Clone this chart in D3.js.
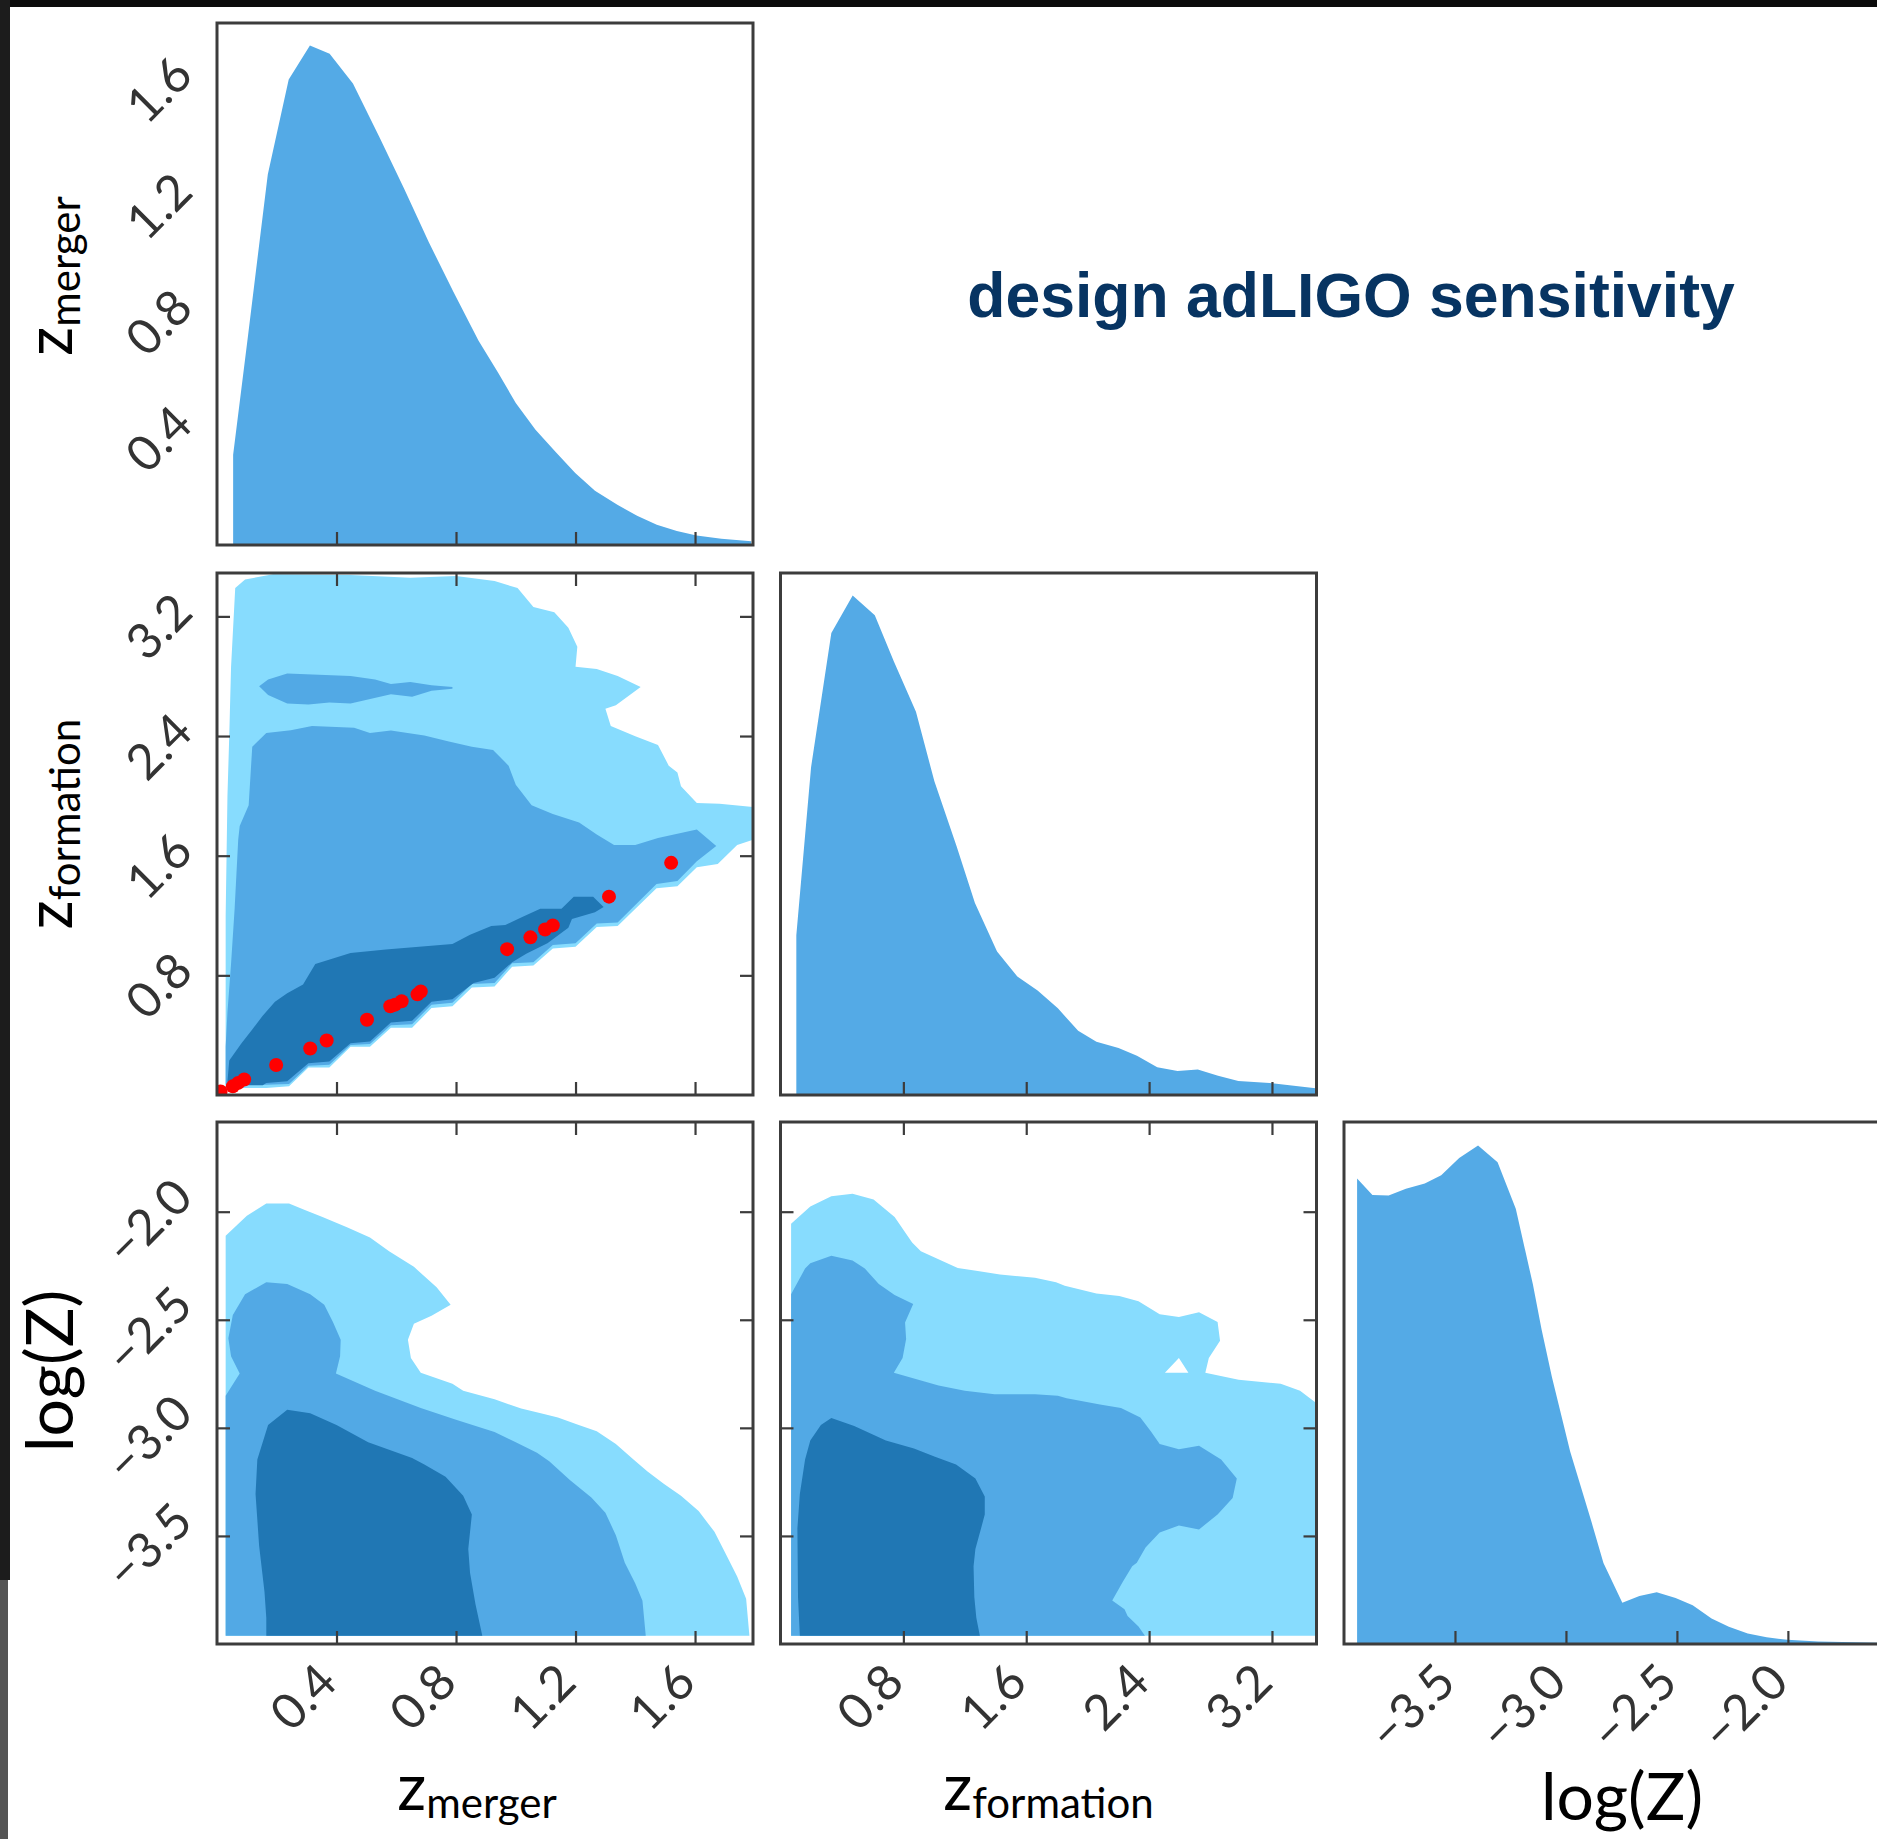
<!DOCTYPE html>
<html>
<head>
<meta charset="utf-8">
<script src="https://cdn.jsdelivr.net/npm/d3@7"></script>
<style>
  html, body { margin: 0; padding: 0; background: #fff; }
  svg { display: block; }
  .tick-label { font-family: Lato, "Open Sans", sans-serif; font-size: 49px; fill: #333; }
  .axis-label { font-family: Lato, "Open Sans", sans-serif; fill: #000; }
  .title { font-family: "Liberation Sans", Arial, sans-serif; font-weight: bold; fill: #073462; }
</style>
</head>
<body>
<svg id="chart" width="1877" height="1839"></svg>
<script>
// ---- parameter ranges and ticks ----
const zMergerDomain = [0, 1.794];
const zFormationDomain = [0, 3.49];
const logZDomain = [-4.0, -1.585];

const zMergerTicks = [0.4, 0.8, 1.2, 1.6];
const zFormationTicks = [0.8, 1.6, 2.4, 3.2];
const logZTicks = [-3.5, -3.0, -2.5, -2.0];

// ---- 1D marginals: [value, relative density] ----
const zMergerPdf = [[0.054,0.173],[0.104,0.402],[0.170,0.710],[0.240,0.892],[0.311,0.957],[0.377,0.941],[0.455,0.884],[0.543,0.782],[0.626,0.683],[0.709,0.580],[0.792,0.484],[0.875,0.392],[0.941,0.330],[1.000,0.272],[1.066,0.221],[1.132,0.179],[1.199,0.138],[1.265,0.104],[1.340,0.077],[1.406,0.056],[1.472,0.039],[1.539,0.027],[1.605,0.018],[1.688,0.012],[1.788,0.007]];

const zFormationPdf = [[0.103,0.306],[0.199,0.628],[0.331,0.885],[0.470,0.957],[0.614,0.919],[0.739,0.830],[0.882,0.734],[1.002,0.601],[1.146,0.477],[1.266,0.368],[1.410,0.275],[1.542,0.227],[1.674,0.200],[1.806,0.166],[1.938,0.123],[2.057,0.102],[2.201,0.090],[2.321,0.075],[2.453,0.053],[2.585,0.046],[2.717,0.049],[2.849,0.037],[2.981,0.027],[3.185,0.023],[3.328,0.018],[3.484,0.013]];

const logZPdf = [[-3.941,0.892],[-3.872,0.860],[-3.799,0.859],[-3.721,0.872],[-3.636,0.882],[-3.562,0.898],[-3.481,0.931],[-3.396,0.955],[-3.308,0.923],[-3.226,0.834],[-3.149,0.689],[-3.110,0.603],[-3.063,0.511],[-2.981,0.369],[-2.885,0.234],[-2.831,0.155],[-2.746,0.079],[-2.669,0.092],[-2.591,0.099],[-2.506,0.088],[-2.429,0.074],[-2.344,0.049],[-2.266,0.033],[-2.181,0.020],[-2.096,0.013],[-2.002,0.008],[-1.864,0.005],[-1.647,0.003],[-1.585,0.002]];

// ---- 2D credible regions (outer = 3 sigma, middle = 2 sigma, inner = 1 sigma) ----
// z_formation vs z_merger
const zfZmOuter = [[0.029,0.046],[0.029,1.2],[0.035,2.0],[0.041,2.4],[0.047,2.86],[0.061,3.39],[0.094,3.447],[0.188,3.482],[0.447,3.476],[0.647,3.459],[0.800,3.47],[0.929,3.436],[1.006,3.389],[1.059,3.263],[1.129,3.228],[1.176,3.124],[1.206,2.997],[1.200,2.864],[1.271,2.848],[1.341,2.801],[1.418,2.728],[1.335,2.606],[1.300,2.582],[1.318,2.467],[1.400,2.398],[1.476,2.340],[1.512,2.202],[1.541,2.156],[1.553,2.064],[1.606,1.953],[1.682,1.948],[1.794,1.925],[1.794,1.706],[1.741,1.672],[1.676,1.545],[1.606,1.522],[1.541,1.395],[1.471,1.383],[1.341,1.13],[1.271,1.123],[1.200,0.991],[1.124,0.980],[1.059,0.865],[0.988,0.858],[0.929,0.726],[0.853,0.719],[0.788,0.593],[0.718,0.581],[0.653,0.45],[0.582,0.45],[0.512,0.323],[0.447,0.323],[0.376,0.184],[0.306,0.184],[0.241,0.058],[0.165,0.046]];
const zfZmMiddle = [[0.029,0.069],[0.029,0.323],[0.035,0.553],[0.047,0.876],[0.059,1.245],[0.071,1.706],[0.076,1.798],[0.106,1.937],[0.118,2.329],[0.165,2.421],[0.247,2.439],[0.318,2.467],[0.459,2.456],[0.512,2.421],[0.582,2.437],[0.694,2.403],[0.776,2.363],[0.853,2.329],[0.924,2.306],[0.976,2.202],[1.0,2.075],[1.053,1.937],[1.124,1.879],[1.212,1.822],[1.271,1.741],[1.329,1.672],[1.4,1.672],[1.476,1.718],[1.606,1.775],[1.671,1.665],[1.606,1.563],[1.541,1.430],[1.471,1.411],[1.341,1.153],[1.271,1.146],[1.2,1.015],[1.124,1.003],[1.059,0.888],[0.988,0.881],[0.929,0.749],[0.853,0.742],[0.788,0.616],[0.718,0.604],[0.653,0.473],[0.582,0.466],[0.512,0.341],[0.447,0.334],[0.376,0.203],[0.306,0.196],[0.241,0.074],[0.165,0.069]];
const zfZmIsland = [[0.141,2.732],[0.171,2.778],[0.235,2.818],[0.447,2.801],[0.529,2.778],[0.582,2.748],[0.647,2.762],[0.718,2.739],[0.788,2.728],[0.788,2.716],[0.718,2.702],[0.653,2.663],[0.582,2.679],[0.447,2.617],[0.376,2.624],[0.306,2.610],[0.235,2.617],[0.171,2.675]];
const zfZmInner = [[0.035,0.092],[0.041,0.231],[0.082,0.346],[0.118,0.438],[0.153,0.530],[0.194,0.623],[0.235,0.680],[0.288,0.738],[0.329,0.876],[0.447,0.950],[0.565,0.973],[0.788,1.010],[0.847,1.072],[0.918,1.130],[0.965,1.137],[1.018,1.187],[1.082,1.245],[1.153,1.245],[1.194,1.326],[1.259,1.326],[1.294,1.257],[1.265,1.222],[1.188,1.176],[1.176,1.118],[1.106,1.015],[1.035,0.945],[0.988,0.888],[0.929,0.784],[0.859,0.749],[0.788,0.641],[0.718,0.623],[0.653,0.496],[0.582,0.484],[0.512,0.357],[0.447,0.346],[0.376,0.224],[0.306,0.212],[0.235,0.092],[0.165,0.081],[0.153,0.065],[0.047,0.065]];

// log(Z) vs z_merger
const lzZmOuter = [[0.029,-3.962],[1.782,-3.962],[1.771,-3.791],[1.741,-3.688],[1.7,-3.576],[1.665,-3.481],[1.612,-3.385],[1.553,-3.314],[1.494,-3.258],[1.441,-3.202],[1.394,-3.146],[1.335,-3.075],[1.271,-3.016],[1.206,-2.984],[1.141,-2.952],[1.094,-2.936],[1.018,-2.911],[0.929,-2.868],[0.824,-2.828],[0.788,-2.796],[0.682,-2.745],[0.649,-2.677],[0.639,-2.592],[0.659,-2.518],[0.718,-2.481],[0.782,-2.430],[0.735,-2.350],[0.659,-2.255],[0.576,-2.183],[0.512,-2.119],[0.435,-2.072],[0.353,-2.024],[0.294,-1.992],[0.241,-1.962],[0.165,-1.962],[0.1,-2.019],[0.029,-2.111]];
const lzZmMiddle = [[0.029,-3.962],[0.029,-2.852],[0.076,-2.748],[0.047,-2.669],[0.038,-2.586],[0.053,-2.478],[0.094,-2.382],[0.165,-2.326],[0.235,-2.334],[0.312,-2.382],[0.359,-2.430],[0.388,-2.510],[0.414,-2.592],[0.412,-2.669],[0.398,-2.748],[0.529,-2.828],[0.682,-2.908],[0.8,-2.963],[0.929,-3.019],[1.0,-3.067],[1.071,-3.115],[1.112,-3.154],[1.182,-3.242],[1.253,-3.322],[1.3,-3.393],[1.335,-3.497],[1.365,-3.624],[1.4,-3.720],[1.424,-3.800],[1.435,-3.962]];
const lzZmInner = [[0.165,-3.962],[0.165,-3.879],[0.159,-3.760],[0.141,-3.545],[0.129,-3.306],[0.135,-3.146],[0.171,-2.987],[0.235,-2.916],[0.312,-2.932],[0.4,-2.987],[0.506,-3.067],[0.653,-3.139],[0.694,-3.170],[0.765,-3.226],[0.824,-3.314],[0.853,-3.401],[0.847,-3.481],[0.841,-3.561],[0.847,-3.672],[0.865,-3.815],[0.888,-3.962]];

// log(Z) vs z_formation
const lzZfOuter = [[0.069,-3.962],[3.486,-3.962],[3.486,-2.884],[3.383,-2.828],[3.257,-2.796],[2.983,-2.777],[2.766,-2.745],[2.789,-2.677],[2.862,-2.597],[2.846,-2.510],[2.725,-2.465],[2.594,-2.487],[2.469,-2.475],[2.331,-2.414],[2.206,-2.390],[2.057,-2.379],[1.851,-2.342],[1.794,-2.326],[1.657,-2.306],[1.429,-2.290],[1.154,-2.260],[0.914,-2.183],[0.857,-2.143],[0.743,-2.024],[0.606,-1.944],[0.469,-1.917],[0.331,-1.928],[0.194,-1.976],[0.069,-2.056]];
const lzZfHole = [[2.503,-2.745],[2.594,-2.677],[2.656,-2.745]];
const lzZfMiddle = [[0.069,-3.962],[0.069,-2.382],[0.16,-2.263],[0.194,-2.239],[0.331,-2.204],[0.469,-2.226],[0.549,-2.263],[0.64,-2.334],[0.743,-2.385],[0.864,-2.427],[0.811,-2.513],[0.818,-2.589],[0.795,-2.677],[0.738,-2.745],[1.029,-2.804],[1.2,-2.828],[1.394,-2.844],[1.657,-2.844],[1.806,-2.852],[1.863,-2.863],[2.08,-2.892],[2.217,-2.908],[2.343,-2.952],[2.411,-3.016],[2.469,-3.075],[2.594,-3.099],[2.725,-3.083],[2.869,-3.146],[2.971,-3.234],[2.944,-3.325],[2.846,-3.401],[2.725,-3.470],[2.594,-3.452],[2.469,-3.484],[2.377,-3.553],[2.32,-3.624],[2.29,-3.640],[2.229,-3.712],[2.16,-3.799],[2.24,-3.839],[2.26,-3.871],[2.331,-3.919],[2.373,-3.962]];
const lzZfInner = [[0.126,-3.962],[0.114,-3.783],[0.11,-3.465],[0.126,-3.306],[0.16,-3.146],[0.194,-3.059],[0.263,-2.987],[0.331,-2.955],[0.48,-2.992],[0.686,-3.059],[0.869,-3.096],[1.006,-3.134],[1.143,-3.170],[1.269,-3.234],[1.330,-3.318],[1.330,-3.401],[1.303,-3.473],[1.269,-3.561],[1.257,-3.640],[1.262,-3.783],[1.275,-3.879],[1.298,-3.962]];

// detected events: [z_merger, z_formation]
const mergerPoints = [[0.012,0.023],[0.053,0.058],[0.071,0.081],[0.091,0.104],[0.198,0.201],[0.312,0.311],[0.367,0.364],[0.502,0.503],[0.580,0.593],[0.596,0.604],[0.618,0.627],[0.671,0.673],[0.682,0.692],[0.971,0.975],[1.049,1.054],[1.098,1.107],[1.124,1.134],[1.312,1.326],[1.520,1.552]];

// ---- layout ----
const colX = [217, 780.5, 1344];
const rowY = [23, 573, 1122];
const W = 536, H = 522;
const tickLen = 13;
const levelColors = ["#87dcfe", "#52a9e5", "#2077b4"];
const histColor = "#54aae6";
const frameColor = "#3c3c3c";

const svg = d3.select("#chart");

// dark edges of the page
svg.append("rect").attr("x", 0).attr("y", 0).attr("width", 1877).attr("height", 7).attr("fill", "#0b0b0b");
svg.append("rect").attr("x", 0).attr("y", 0).attr("width", 10).attr("height", 1580).attr("fill", "#1c1c1c");
svg.append("rect").attr("x", 0).attr("y", 1580).attr("width", 8).attr("height", 259).attr("fill", "#555");

const domains = [zMergerDomain, zFormationDomain, logZDomain];
const ticks = [zMergerTicks, zFormationTicks, logZTicks];
const xScales = domains.map(d => d3.scaleLinear().domain(d).range([0, W]));
const yScales = domains.map(d => d3.scaleLinear().domain(d).range([H, 0]));
const fmt = d3.format(".1f");

function panel(row, col) {
  const g = svg.append("g").attr("transform", `translate(${colX[col]},${rowY[row]})`);
  const id = `clip-${row}-${col}`;
  g.append("clipPath").attr("id", id).append("rect").attr("width", W).attr("height", H);
  const body = g.append("g").attr("clip-path", `url(#${id})`);
  return { g, body };
}

function frame(g) {
  g.append("rect").attr("width", W).attr("height", H)
    .attr("fill", "none").attr("stroke", frameColor).attr("stroke-width", 3);
}

function tickMarks(g, axis, translate) {
  const a = g.append("g").attr("transform", translate)
    .call(axis.tickSize(-tickLen).tickFormat(""));
  a.select(".domain").remove();
  a.selectAll("line").attr("stroke", frameColor).attr("stroke-width", 2.2);
}

// rotated tick labels, 45 degrees
const digitH = 35;
function xTickLabels(g, scale, values) {
  values.forEach(v => {
    const t = g.append("text").attr("class", "tick-label")
      .attr("text-anchor", "middle").attr("dominant-baseline", "central")
      .text(fmt(v));
    const half = 0.354 * (t.node().getComputedTextLength() + digitH);
    const cx = scale(v) - half + 2, cy = H + 15 + half;
    t.attr("transform", `translate(${cx},${cy}) rotate(-45)`);
  });
}
function yTickLabels(g, scale, values) {
  values.forEach(v => {
    const t = g.append("text").attr("class", "tick-label")
      .attr("text-anchor", "middle").attr("dominant-baseline", "central")
      .text(fmt(v));
    const half = 0.354 * (t.node().getComputedTextLength() + digitH);
    const cx = -23 - half, cy = scale(v) + 9;
    t.attr("transform", `translate(${cx},${cy}) rotate(-45)`);
  });
}

// diagonal: marginal densities
const pdfs = [zMergerPdf, zFormationPdf, logZPdf];
const densityY = d3.scaleLinear().domain([0, 1]).range([H, 0]);
pdfs.forEach((pdf, i) => {
  const { g, body } = panel(i, i);
  const area = d3.area()
    .x(d => xScales[i](d[0]))
    .y0(densityY(0))
    .y1(d => densityY(d[1]));
  body.append("path").datum(pdf).attr("d", area).attr("fill", histColor);
  frame(g);
  tickMarks(g, d3.axisBottom(xScales[i]).tickValues(ticks[i]), `translate(0,${H})`);
});

// off-diagonal: filled credible regions
const offDiag = [
  { row: 1, col: 0, levels: [[zfZmOuter], [zfZmMiddle, zfZmIsland], [zfZmInner]] },
  { row: 2, col: 0, levels: [[lzZmOuter], [lzZmMiddle], [lzZmInner]] },
  { row: 2, col: 1, levels: [[lzZfOuter, lzZfHole], [lzZfMiddle], [lzZfInner]] }
];

const cells = {};
offDiag.forEach(p => {
  const { g, body } = panel(p.row, p.col);
  const xs = xScales[p.col], ys = yScales[p.row];
  const line = d3.line().x(d => xs(d[0])).y(d => ys(d[1]));
  p.levels.forEach((rings, k) => {
    body.append("path")
      .attr("d", rings.map(r => line(r) + "Z").join(""))
      .attr("fill", levelColors[k])
      .attr("fill-rule", "evenodd");
  });
  cells[`${p.row}${p.col}`] = { g, body, xs, ys };
});

// detected mergers on the z_formation / z_merger panel
const zfzm = cells["10"];
zfzm.body.selectAll("circle.event").data(mergerPoints).join("circle")
  .attr("class", "event")
  .attr("cx", d => zfzm.xs(d[0]))
  .attr("cy", d => zfzm.ys(d[1]))
  .attr("r", 7)
  .attr("fill", "#ff0000");

offDiag.forEach(p => {
  const { g, xs, ys } = cells[`${p.row}${p.col}`];
  frame(g);
  tickMarks(g, d3.axisBottom(xs).tickValues(ticks[p.col]), `translate(0,${H})`);
  tickMarks(g, d3.axisTop(xs).tickValues(ticks[p.col]), "translate(0,0)");
  tickMarks(g, d3.axisLeft(ys).tickValues(ticks[p.row]), "translate(0,0)");
  tickMarks(g, d3.axisRight(ys).tickValues(ticks[p.row]), `translate(${W},0)`);
});

// tick labels on the outer edges
const labelLayer = svg.append("g");
[0, 1, 2].forEach(col => {
  const g = labelLayer.append("g").attr("transform", `translate(${colX[col]},${rowY[2]})`);
  xTickLabels(g, xScales[col], ticks[col]);
});
[0, 1, 2].forEach(row => {
  const g = labelLayer.append("g").attr("transform", `translate(${colX[0]},${rowY[row]})`);
  yTickLabels(g, yScales[row], ticks[row]);
});

// axis titles
function zLabel(sub, x, y, vertical) {
  const t = svg.append("text").attr("class", "axis-label")
    .attr("text-anchor", "middle")
    .attr("transform", `translate(${x},${y})` + (vertical ? " rotate(-90)" : ""));
  t.append("tspan").attr("font-size", 64).text("z");
  t.append("tspan").attr("font-size", 42).attr("dy", 8).text(sub);
}
function logLabel(x, y, vertical) {
  svg.append("text").attr("class", "axis-label")
    .attr("text-anchor", "middle").attr("font-size", 66)
    .attr("transform", `translate(${x},${y})` + (vertical ? " rotate(-90)" : ""))
    .text("log(Z)");
}

zLabel("merger", colX[0] + W / 2 - 8, 1810, false);
zLabel("formation", colX[1] + W / 2, 1810, false);
logLabel(colX[2] + W / 2 + 10, 1820, false);

zLabel("merger", 72, rowY[0] + H / 2 - 8, true);
zLabel("formation", 72, rowY[1] + H / 2 - 10, true);
logLabel(73, rowY[2] + H / 2 - 12, true);

svg.append("text").attr("class", "title")
  .attr("x", 1351).attr("y", 317)
  .attr("text-anchor", "middle").attr("font-size", 62.5)
  .text("design adLIGO sensitivity");
</script>
</body>
</html>
